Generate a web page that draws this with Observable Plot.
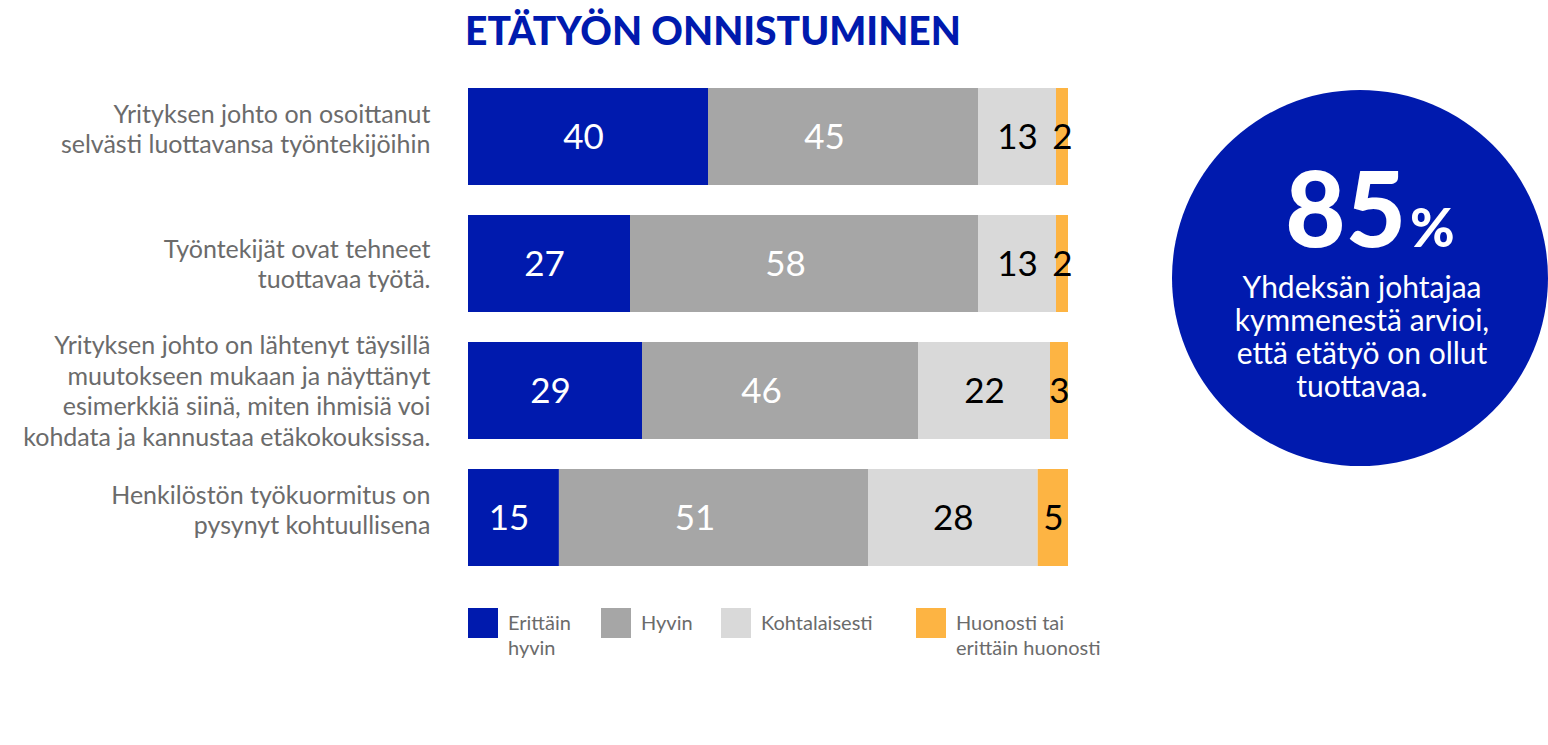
<!DOCTYPE html>
<html>
<head>
<meta charset="utf-8">
<script src="https://cdn.jsdelivr.net/npm/d3@7"></script>
<script src="https://cdn.jsdelivr.net/npm/@observablehq/plot@0.6"></script>
<style>
  html, body { margin: 0; padding: 0; background: #fff; }
  #wrap { position: relative; width: 1548px; height: 745px; overflow: hidden; font-family: Lato, "Noto Sans", sans-serif; }
  #title { position: absolute; left: 465px; top: 11px; font-size: 39px; line-height: 39px; font-weight: 900; color: #001aae; white-space: nowrap; letter-spacing: 0; }
  #chart { position: absolute; left: 0; top: 70px; }
  .sw { position: absolute; width: 30px; height: 30px; top: 608px; }
  .lt { position: absolute; top: 610px; font-size: 20px; line-height: 25px; color: #6b6b6b; font-weight: 400; white-space: nowrap; }
  #circle { position: absolute; left: 1172px; top: 90px; width: 376px; height: 376px; border-radius: 50%; background: #001aae; color: #fff; text-align: center; }
  #big { position: absolute; left: 0; width: 376px; top: 65px; padding-left: 20px; box-sizing: border-box; font-weight: 900; font-size: 104px; line-height: 104px; }
  #big span { font-size: 54px; font-weight: 900; margin-left: 4px; }
  #sub { position: absolute; left: 2px; width: 376px; top: 180px; font-size: 30px; line-height: 33px; font-weight: 400; }
</style>
</head>
<body>
<div id="wrap">
  <div id="title">ETÄTYÖN ONNISTUMINEN</div>
  <div id="chart"></div>
  <div id="legend"></div>
  <div id="circle">
    <div id="big">85<span>%</span></div>
    <div id="sub">Yhdeksän johtajaa<br>kymmenestä arvioi,<br>että etätyö on ollut<br>tuottavaa.</div>
  </div>
</div>
<script>
// ---- data ----
const categories = [
  "Yrityksen johto on osoittanut\nselvästi luottavansa työntekijöihin",
  "Työntekijät ovat tehneet\ntuottavaa työtä.",
  "Yrityksen johto on lähtenyt täysillä\nmuutokseen mukaan ja näyttänyt\nesimerkkiä siinä, miten ihmisiä voi\nkohdata ja kannustaa etäkokouksissa.",
  "Henkilöstön työkuormitus on\npysynyt kohtuullisena"
];
const series = ["Erittäin hyvin", "Hyvin", "Kohtalaisesti", "Huonosti tai erittäin huonosti"];
const legendLabels = ["Erittäin\nhyvin", "Hyvin", "Kohtalaisesti", "Huonosti tai\nerittäin huonosti"];
const erittainHyvin = [40, 27, 29, 15];
const hyvin = [45, 58, 46, 51];
const kohtalaisesti = [13, 13, 22, 28];
const huonosti = [2, 2, 3, 5];
const colors = ["#001aae", "#a6a6a6", "#d9d9d9", "#fdb443"];
const labelColors = ["#ffffff", "#ffffff", "#000000", "#000000"];
const labelShift = [-5, -19, 0, 0];

const valuesBySeries = [erittainHyvin, hyvin, kohtalaisesti, huonosti];
const data = categories.flatMap((c, i) =>
  series.map((s, j) => ({ category: c, series: s, value: valuesBySeries[j][i], si: j }))
);

const chart = Plot.plot({
  width: 1100,
  height: 520,
  marginLeft: 468,
  marginRight: 32,
  marginTop: 16,
  marginBottom: 22,
  style: { fontFamily: "Lato, 'Noto Sans', sans-serif", background: "transparent" },
  x: { axis: null, domain: [0, 1] },
  y: { domain: categories, paddingInner: 0.234, paddingOuter: 0, axis: null },
  color: { domain: series, range: colors },
  marks: [
    Plot.barX(data, Plot.stackX({ x: "value", y: "category", fill: "series", offset: "normalize" })),
    ...[0, 1, 2, 3].map(k =>
      Plot.text(data, Plot.stackX({
        x: "value", y: "category", z: "series", offset: "normalize",
        text: d => (d.si === k ? String(d.value) : null),
        fill: labelColors[k], fontSize: 35, fontWeight: 400,
        dx: labelShift[k], dy: 1
      }))
    ),
    Plot.axisY({
      ticks: [categories[0], categories[3]],
      tickSize: 0, tickPadding: 38, fontSize: 25, lineHeight: 1.22, dy: -9,
      fill: "#6b6b6b", fontWeight: 400, label: null
    }),
    Plot.axisY({
      ticks: [categories[1], categories[2]],
      tickSize: 0, tickPadding: 38, fontSize: 25, lineHeight: 1.22, dy: -1,
      fill: "#6b6b6b", fontWeight: 400, label: null
    })
  ]
});
document.getElementById("chart").appendChild(chart);

// legend
const legendX = [468, 601, 721, 916];
const legend = document.getElementById("legend");
series.forEach((s, i) => {
  const sw = document.createElement("div");
  sw.className = "sw";
  sw.style.left = legendX[i] + "px";
  sw.style.background = colors[i];
  legend.appendChild(sw);
  const t = document.createElement("div");
  t.className = "lt";
  t.style.left = (legendX[i] + 40) + "px";
  t.innerHTML = legendLabels[i].split("\n").join("<br>");
  legend.appendChild(t);
});
</script>
</body>
</html>
